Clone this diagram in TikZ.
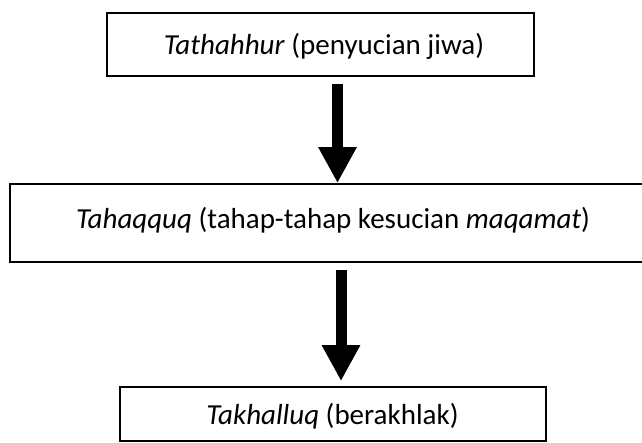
\documentclass[tikz,border=0pt]{standalone}
\usepackage{fontspec}
\setmainfont{Carlito}
\usetikzlibrary{arrows.meta}
\begin{document}
\begin{tikzpicture}[x=1pt,y=-1pt,
  stagebox/.style={draw, line width=1.8pt, rectangle, inner sep=0pt},
  stagetext/.style={anchor=base, inner sep=0pt, font=\fontsize{29}{34}\selectfont},
  flowarrow/.style={line width=11pt, -{Triangle[width=36pt,length=36pt]}, shorten <=7pt}]
\useasboundingbox (0,0) rectangle (642,442);
\fill[white] (0,0) rectangle (642,442);

% the three stages (the middle one runs past the right edge)
\node[stagebox, minimum width=427pt, minimum height=63pt] (b1) at (320.5,44.5) {};
\node[stagebox, minimum width=644pt, minimum height=78pt] (b2) at (332,223) {};
\node[stagebox, minimum width=426pt, minimum height=54pt] (b3) at (333,414) {};

\node[stagetext] (t1) at (324,54) {\textit{Tathahhur} (penyucian jiwa)};
\node[stagetext] (t2) at (333,228) {\textit{Tahaqquq} (tahap-tahap kesucian \textit{maqamat})};
\node[stagetext] (t3) at (332.5,424) {\textit{Takhalluq} (berakhlak)};

% arrows between the stages
\coordinate (ax1) at (337.5,0);
\coordinate (ax2) at (341,0);
\draw[flowarrow] (b1.south -| ax1) -- (b2.north -| ax1);
\draw[flowarrow, shorten >=5pt] (b2.south -| ax2) -- (b3.north -| ax2);
\end{tikzpicture}
\end{document}
